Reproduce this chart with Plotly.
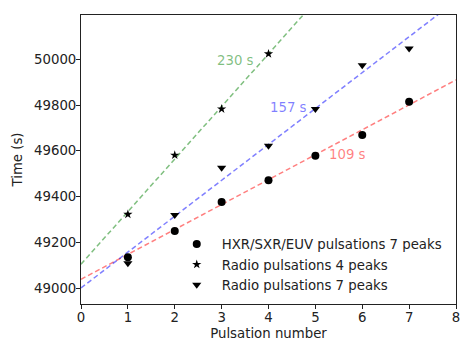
import plotly.graph_objects as go

# Data
pulse_hxr = [1, 2, 3, 4, 5, 6, 7]
time_hxr = [49135, 49249, 49376, 49471, 49578, 49669, 49815]

pulse_radio4 = [1, 2, 3, 4]
time_radio4 = [49322, 49581, 49783, 50024]

pulse_radio7 = [1, 2, 3, 4, 5, 6, 7]
time_radio7 = [49108, 49319, 49526, 49622, 49783, 49974, 50048]

# Linear fits: intercept (s) and period (s)
fit_names = ["109 s", "157 s", "230 s"]
fit_intercepts = [49038, 49000, 49104]
fit_periods = [109, 157, 230]
fit_colors = ["rgba(255,0,0,0.5)", "rgba(0,0,255,0.5)", "rgba(0,128,0,0.5)"]
label_x = [5.68, 4.42, 3.30]
label_y = [49585, 49788, 49996]

x_range = [0, 8]
y_range = [48930, 50194]

fig = go.Figure()

for name, a, b, c in zip(fit_names, fit_intercepts, fit_periods, fit_colors):
    fig.add_trace(go.Scatter(
        x=x_range, y=[a + b * xv for xv in x_range], mode="lines",
        line=dict(color=c, width=1.5, dash="5px,3px"), showlegend=False, hoverinfo="skip"))

fig.add_trace(go.Scatter(x=pulse_hxr, y=time_hxr, mode="markers",
                         marker=dict(symbol="circle", size=8, color="black"),
                         name="HXR/SXR/EUV pulsations 7 peaks"))
fig.add_trace(go.Scatter(x=pulse_radio4, y=time_radio4, mode="markers",
                         marker=dict(symbol="star", size=7, color="black"),
                         name="Radio pulsations 4 peaks"))
fig.add_trace(go.Scatter(x=pulse_radio7, y=time_radio7, mode="markers",
                         marker=dict(symbol="triangle-down", size=8, color="black"),
                         name="Radio pulsations 7 peaks"))

for name, c, lx, ly in zip(fit_names, fit_colors, label_x, label_y):
    fig.add_annotation(x=lx, y=ly, text=name, showarrow=False,
                       font=dict(color=c, size=13.3), xref="x", yref="y")

axis_common = dict(showline=True, mirror=True, linecolor="#222", linewidth=1,
                   ticks="outside", ticklen=4, tickcolor="#222", showgrid=False,
                   zeroline=False, tickfont=dict(size=13.3, color="#222"),
                   ticklabelstandoff=-3)

fig.update_layout(
    width=474, height=355,
    margin=dict(l=73, r=26, t=7, b=59),
    paper_bgcolor="white", plot_bgcolor="white",
    font=dict(family="DejaVu Sans", size=13.3, color="#222"),
    xaxis=dict(range=x_range, dtick=1, title=dict(text="Pulsation number", font=dict(size=13.3), standoff=4), **axis_common),
    yaxis=dict(range=y_range, tickvals=[49000, 49200, 49400, 49600, 49800, 50000],
               tickformat="d", title=dict(text="Time (s)", font=dict(size=13.3), standoff=8), **axis_common),
    legend=dict(x=0.242, y=0.014, xanchor="left", yanchor="bottom", bgcolor="rgba(0,0,0,0)",
                font=dict(size=13.3), itemwidth=40),
    showlegend=True,
)

fig.write_html("out.html")
